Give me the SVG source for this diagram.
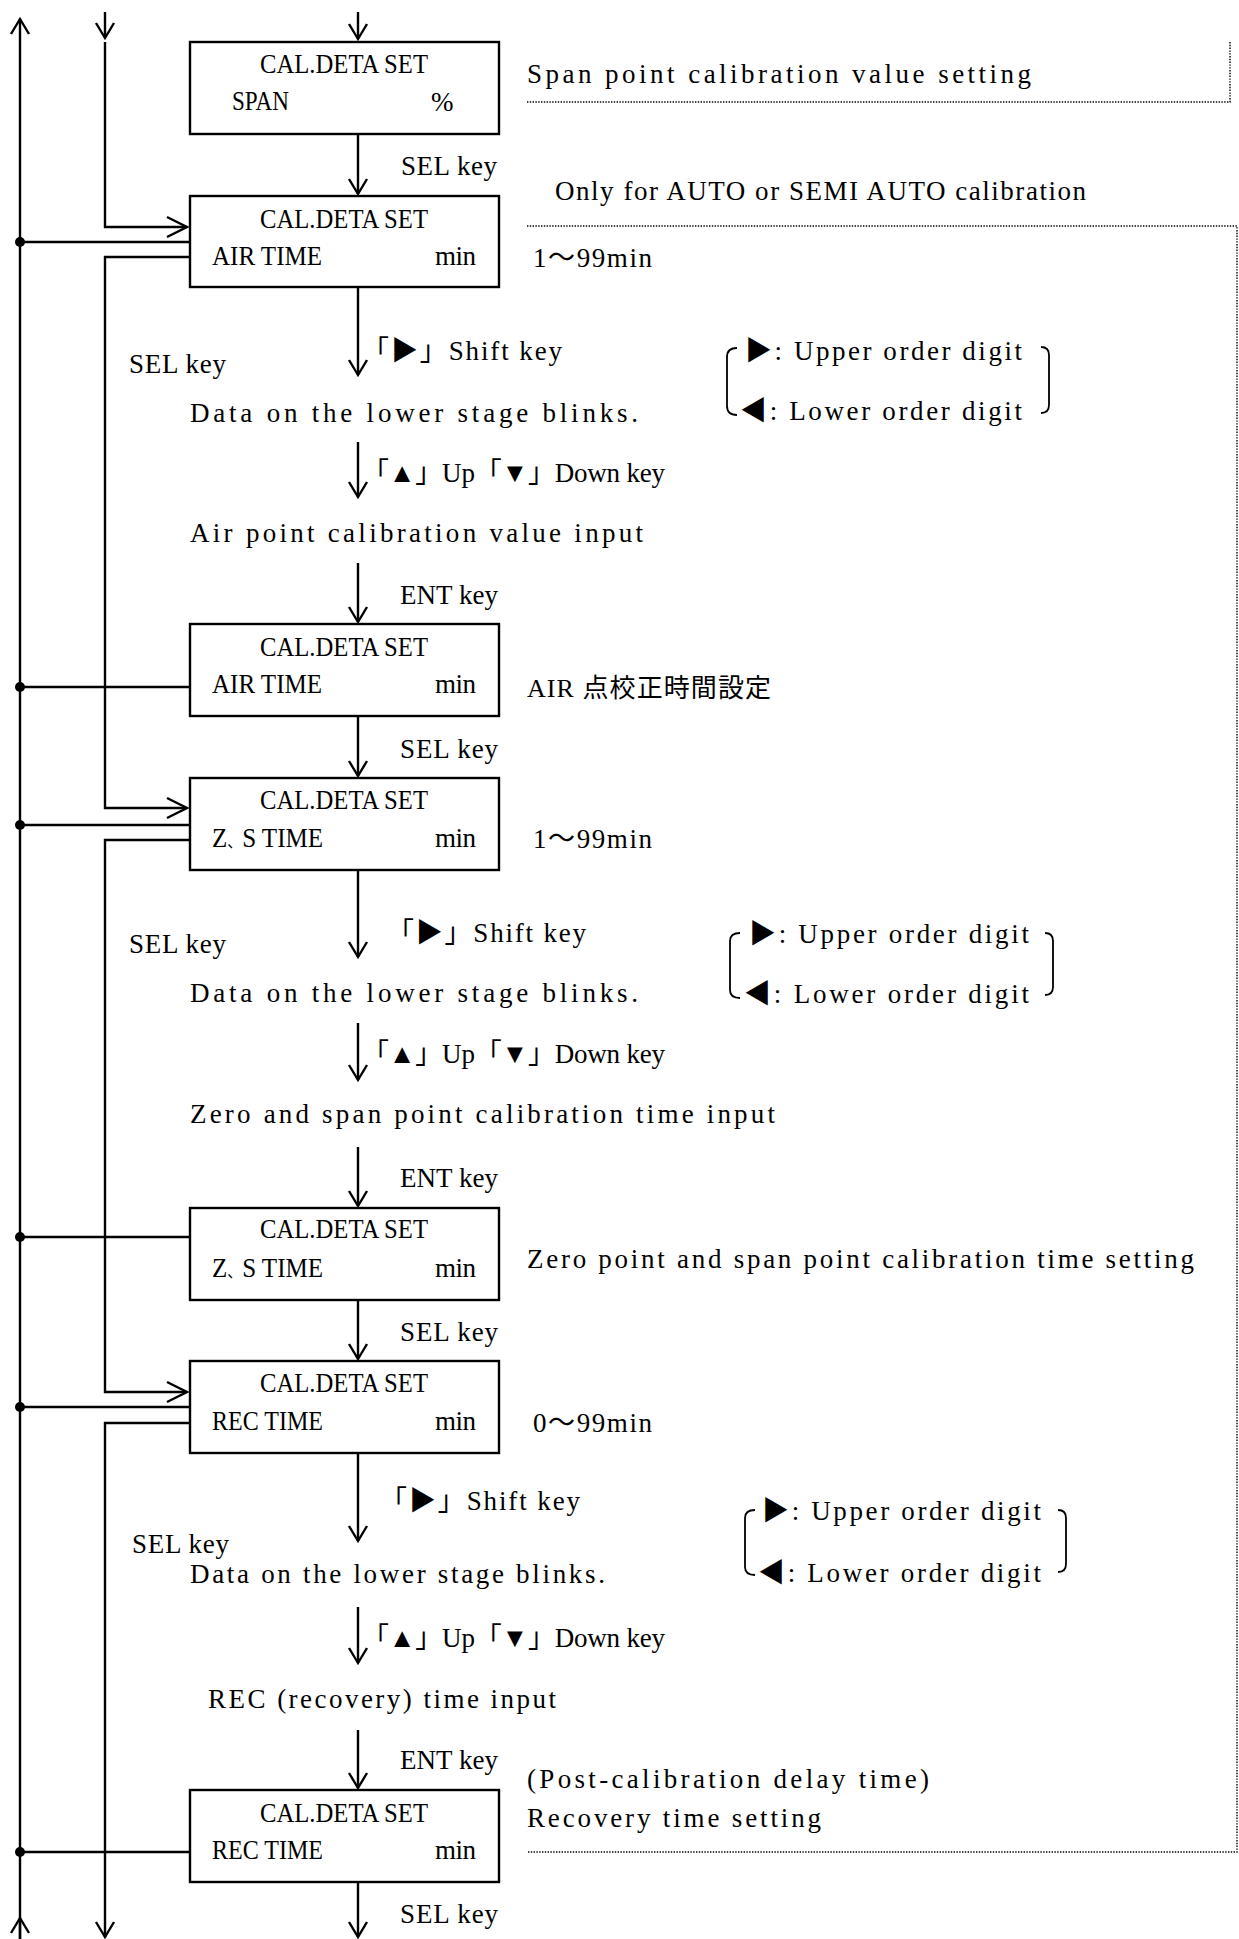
<svg xmlns="http://www.w3.org/2000/svg" width="1239" height="1939" viewBox="0 0 1239 1939">
<style>
.t{font-family:"Liberation Serif","Noto Sans CJK JP","DejaVu Sans",serif;font-size:27px;fill:#000}
.j{font-family:"Liberation Serif","Noto Sans CJK JP",serif;font-size:26px;fill:#000}
.box{fill:#fff;stroke:#000;stroke-width:2.4}
.ln{fill:none;stroke:#000;stroke-width:2.4}
.dot{fill:none;stroke:#000;stroke-width:1.4;stroke-dasharray:1.4 1.4}
.br{fill:none;stroke:#000;stroke-width:1.8}
</style>
<defs>
<marker id="av" markerUnits="userSpaceOnUse" orient="auto" viewBox="-20 -12 24 24" markerWidth="24" markerHeight="24" refX="0" refY="0" overflow="visible">
<path d="M-15,-9 L0,0 L-15,9" fill="none" stroke="#000" stroke-width="2.4"/>
</marker>
<marker id="ah" markerUnits="userSpaceOnUse" orient="auto" viewBox="-24 -13 28 26" markerWidth="28" markerHeight="26" refX="0" refY="0" overflow="visible">
<path d="M-20,-10 L0,0 L-20,10" fill="none" stroke="#000" stroke-width="2.4"/>
</marker>
</defs>
<rect width="1239" height="1939" fill="#fff"/>

<g id="connectors">
<path class="ln" d="M358,12 V39" marker-end="url(#av)"/>
<path class="ln" d="M358,134 V194" marker-end="url(#av)"/>
<path class="ln" d="M358,287 V375" marker-end="url(#av)"/>
<path class="ln" d="M358,442 V497" marker-end="url(#av)"/>
<path class="ln" d="M358,563 V622" marker-end="url(#av)"/>
<path class="ln" d="M358,716 V776" marker-end="url(#av)"/>
<path class="ln" d="M358,870 V957" marker-end="url(#av)"/>
<path class="ln" d="M358,1023 V1080" marker-end="url(#av)"/>
<path class="ln" d="M358,1147 V1206" marker-end="url(#av)"/>
<path class="ln" d="M358,1300 V1359" marker-end="url(#av)"/>
<path class="ln" d="M358,1453 V1541" marker-end="url(#av)"/>
<path class="ln" d="M358,1607 V1663" marker-end="url(#av)"/>
<path class="ln" d="M358,1730 V1788" marker-end="url(#av)"/>
<path class="ln" d="M358,1882 V1937" marker-end="url(#av)"/>
<path class="ln" d="M20,1939 V19" marker-end="url(#av)"/>
<path class="ln" d="M20,1939 V1918" marker-end="url(#av)"/>
<path class="ln" d="M20,242 H190"/>
<path class="ln" d="M20,687 H190"/>
<path class="ln" d="M20,825 H190"/>
<path class="ln" d="M20,1237 H190"/>
<path class="ln" d="M20,1407 H190"/>
<path class="ln" d="M20,1852 H190"/>
<circle cx="20" cy="242" r="5"/>
<circle cx="20" cy="687" r="5"/>
<circle cx="20" cy="825" r="5"/>
<circle cx="20" cy="1237" r="5"/>
<circle cx="20" cy="1407" r="5"/>
<circle cx="20" cy="1852" r="5"/>
<path class="ln" d="M105,12 V38" marker-end="url(#av)"/>
<path class="ln" d="M105,42 V227 H187" marker-end="url(#ah)"/>
<path class="ln" d="M190,257 H105 V808 H187" marker-end="url(#ah)"/>
<path class="ln" d="M190,840 H105 V1392 H187" marker-end="url(#ah)"/>
<path class="ln" d="M190,1423 H105 V1937" marker-end="url(#av)"/>
<path class="dot" d="M527,102 H1230 V42"/>
<path class="dot" d="M527,226 H1237 V1852 H527"/>
</g>

<g id="n1">
<rect class="box" x="190" y="42" width="309" height="92"/>
<text class="t" x="260" y="73" textLength="168" lengthAdjust="spacingAndGlyphs">CAL.DETA SET</text>
<text class="t" x="232" y="110" textLength="57" lengthAdjust="spacingAndGlyphs">SPAN</text>
<text class="t" x="431" y="111">%</text>
</g>
<g id="n2">
<rect class="box" x="190" y="196" width="309" height="91"/>
<text class="t" x="260" y="228" textLength="168" lengthAdjust="spacingAndGlyphs">CAL.DETA SET</text>
<text class="t" x="212" y="265" textLength="110" lengthAdjust="spacingAndGlyphs">AIR TIME</text>
<text class="t" x="435" y="265" textLength="41">min</text>
</g>
<g id="n3">
<rect class="box" x="190" y="624" width="309" height="92"/>
<text class="t" x="260" y="656" textLength="168" lengthAdjust="spacingAndGlyphs">CAL.DETA SET</text>
<text class="t" x="212" y="693" textLength="110" lengthAdjust="spacingAndGlyphs">AIR TIME</text>
<text class="t" x="435" y="693" textLength="41">min</text>
</g>
<g id="n4">
<rect class="box" x="190" y="778" width="309" height="92"/>
<text class="t" x="260" y="809" textLength="168" lengthAdjust="spacingAndGlyphs">CAL.DETA SET</text>
<text class="t" x="212" y="847" textLength="111" lengthAdjust="spacingAndGlyphs">Z<tspan font-size="16">、</tspan>S TIME</text>
<text class="t" x="435" y="847" textLength="41">min</text>
</g>
<g id="n5">
<rect class="box" x="190" y="1208" width="309" height="92"/>
<text class="t" x="260" y="1238" textLength="168" lengthAdjust="spacingAndGlyphs">CAL.DETA SET</text>
<text class="t" x="212" y="1277" textLength="111" lengthAdjust="spacingAndGlyphs">Z<tspan font-size="16">、</tspan>S TIME</text>
<text class="t" x="435" y="1277" textLength="41">min</text>
</g>
<g id="n6">
<rect class="box" x="190" y="1361" width="309" height="92"/>
<text class="t" x="260" y="1392" textLength="168" lengthAdjust="spacingAndGlyphs">CAL.DETA SET</text>
<text class="t" x="212" y="1430" textLength="111" lengthAdjust="spacingAndGlyphs">REC TIME</text>
<text class="t" x="435" y="1430" textLength="41">min</text>
</g>
<g id="n7">
<rect class="box" x="190" y="1790" width="309" height="92"/>
<text class="t" x="260" y="1822" textLength="168" lengthAdjust="spacingAndGlyphs">CAL.DETA SET</text>
<text class="t" x="212" y="1859" textLength="111" lengthAdjust="spacingAndGlyphs">REC TIME</text>
<text class="t" x="435" y="1859" textLength="41">min</text>
</g>

<g id="s1"><text class="t" x="190" y="422" textLength="448">Data on the lower stage blinks.</text></g>
<g id="s2"><text class="t" x="190" y="542" textLength="453">Air point calibration value input</text></g>
<g id="s3"><text class="t" x="190" y="1002" textLength="448">Data on the lower stage blinks.</text></g>
<g id="s4"><text class="t" x="190" y="1123" textLength="585">Zero and span point calibration time input</text></g>
<g id="s5"><text class="t" x="190" y="1583" textLength="415">Data on the lower stage blinks.</text></g>
<g id="s6"><text class="t" x="208" y="1708" textLength="348">REC (recovery) time input</text></g>

<g id="labels">
<text class="t" x="401" y="175" textLength="96">SEL key</text>
<text class="t" x="362" y="360" textLength="200">「▶」Shift key</text>
<text class="t" x="129" y="373" textLength="97">SEL key</text>
<text class="t" x="362" y="482" textLength="303">「▲」Up「▼」Down key</text>
<text class="t" x="400" y="604" textLength="98">ENT key</text>
<text class="t" x="400" y="758" textLength="98">SEL key</text>
<text class="t" x="387" y="942" textLength="199">「▶」Shift key</text>
<text class="t" x="129" y="953" textLength="97">SEL key</text>
<text class="t" x="362" y="1063" textLength="303">「▲」Up「▼」Down key</text>
<text class="t" x="400" y="1187" textLength="98">ENT key</text>
<text class="t" x="400" y="1341" textLength="98">SEL key</text>
<text class="t" x="380" y="1510" textLength="200">「▶」Shift key</text>
<text class="t" x="132" y="1553" textLength="97">SEL key</text>
<text class="t" x="362" y="1647" textLength="303">「▲」Up「▼」Down key</text>
<text class="t" x="400" y="1769" textLength="98">ENT key</text>
<text class="t" x="400" y="1923" textLength="98">SEL key</text>
</g>

<g id="notes">
<text class="t" x="527" y="83" textLength="504">Span point calibration value setting</text>
<text class="t" x="555" y="200" textLength="531">Only for AUTO or SEMI AUTO calibration</text>
<text class="t" x="533" y="267" textLength="119">1～99min</text>
<text class="j" x="527" y="697" textLength="244">AIR 点校正時間設定</text>
<text class="t" x="533" y="848" textLength="119">1～99min</text>
<text class="t" x="527" y="1268" textLength="667">Zero point and span point calibration time setting</text>
<text class="t" x="533" y="1432" textLength="119">0～99min</text>
<text class="t" x="527" y="1788" textLength="402">(Post-calibration delay time)</text>
<text class="t" x="527" y="1827" textLength="294">Recovery time setting</text>
</g>

<g id="digits1">
<path class="br" d="M737,348 Q727,348 727,357 V406 Q727,415 737,415"/>
<path class="br" d="M1041,347 Q1049,347 1049,355 V405 Q1049,413 1041,413"/>
<text class="t" x="745" y="360" textLength="277">▶: Upper order digit</text>
<text class="t" x="740" y="420" textLength="282">◀: Lower order digit</text>
</g>
<g id="digits2">
<path class="br" d="M740,933 Q730,933 730,941 V990 Q730,998 740,998"/>
<path class="br" d="M1045,933 Q1053,933 1053,941 V987 Q1053,995 1045,995"/>
<text class="t" x="749" y="943" textLength="280">▶: Upper order digit</text>
<text class="t" x="744" y="1003" textLength="285">◀: Lower order digit</text>
</g>
<g id="digits3">
<path class="br" d="M755,1510 Q745,1510 745,1518 V1567 Q745,1575 755,1575"/>
<path class="br" d="M1058,1510 Q1066,1510 1066,1518 V1564 Q1066,1572 1058,1572"/>
<text class="t" x="762" y="1520" textLength="279">▶: Upper order digit</text>
<text class="t" x="758" y="1582" textLength="283">◀: Lower order digit</text>
</g>
</svg>
